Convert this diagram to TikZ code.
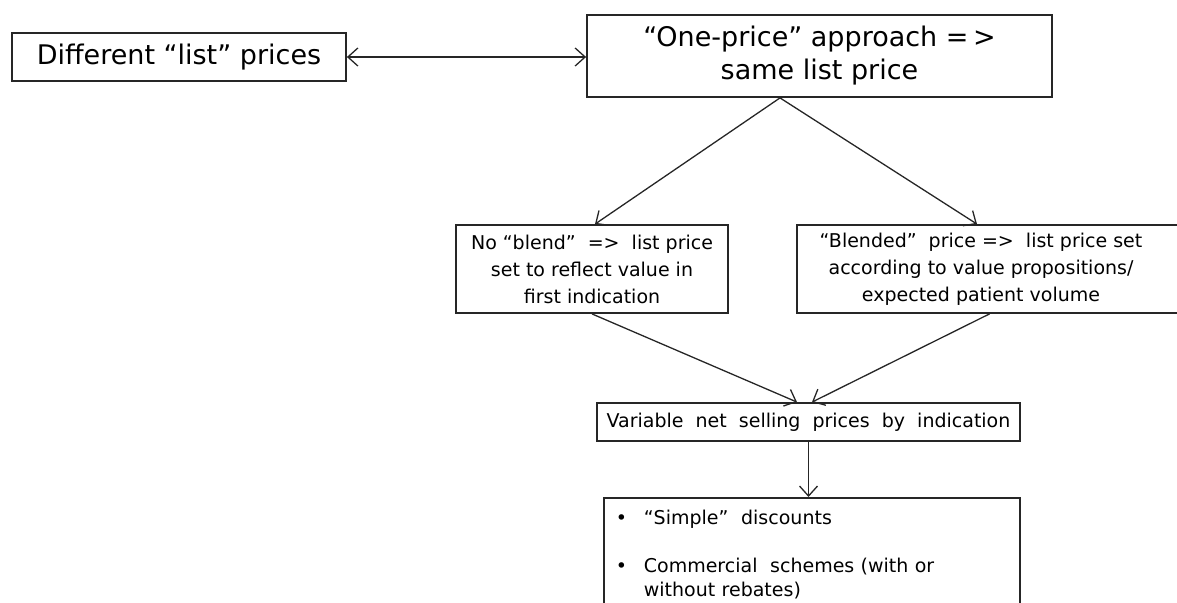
\documentclass[tikz,border=0pt]{standalone}
\usepackage{fontspec}
\setmainfont{DejaVu Sans}
\usetikzlibrary{arrows.meta,calc}
\begin{document}
\begin{tikzpicture}[x=1pt,y=-1pt,
  box/.style={draw=black!85, line width=1.8pt, inner sep=0pt, align=center, text=black},
  big/.style={font=\fontsize{27}{33}\selectfont},
  small/.style={font=\fontsize{19}{27}\selectfont},
  conn/.style={draw=black!85, line width=1.3pt, -{Straight Barb[length=10pt,width=18pt]}},
  dbl/.style={draw=black!85, line width=1.3pt, {Straight Barb[length=10pt,width=18pt]}-{Straight Barb[length=10pt,width=18pt]}}
]
\useasboundingbox (0,0) rectangle (1177,602);
\clip (0,0) rectangle (1177,602);

\node[box,big,minimum width=334pt,minimum height=48pt] (a) at (179,57) {Different “list” prices};
\node[box,big,minimum width=465pt,minimum height=82pt] (b) at (819.5,56) {“One-price” approach =\,>\\same list price};

\node[box,small,minimum width=272pt,minimum height=88pt] (c) at (592,269)
  {No “blend”\ \ =>\ \ list price\\set to reflect value in\\first indication};
\node[box,small,minimum width=385pt,minimum height=88pt] (d) at (989.5,269)
  {\begin{tabular}{@{}c@{}}“Blended”\ \ price =>\ \ list price set\\according to value propositions/\\expected patient volume\end{tabular}\hspace{17pt}};

\node[box,small,minimum width=423pt,minimum height=38pt] (e) at (808.5,422)
  {Variable\ \ net\ \ selling\ \ prices\ \ by\ \ indication};

\node[box,font=\fontsize{19}{24}\selectfont,anchor=north west,inner xsep=12pt,inner ysep=12pt,align=left,text width=392pt] (f) at (603,497)
  {\makebox[28pt][l]{\textbullet}“Simple”\ \ discounts\\[24pt]
   \makebox[28pt][l]{\textbullet}Commercial\ \ schemes (with or\\
   \hspace*{28pt}without rebates)};

\draw[dbl] (a.east) -- (a.east -| b.west);
\coordinate (apex) at ($(b.south)+(-39.5,0)$);
\draw[conn] (apex) -- ($(c.north)+(3,0)$);
\draw[conn] (apex) -- ($(d.north)+(-12.5,0)$);
\draw[conn] (c.south) -- ($(e.north)+(-11.5,0)$);
\draw[conn] (d.south) -- ($(e.north)+(3.5,0)$);
\draw[conn] (e.south) -- (e.south |- f.north);
\end{tikzpicture}
\end{document}
